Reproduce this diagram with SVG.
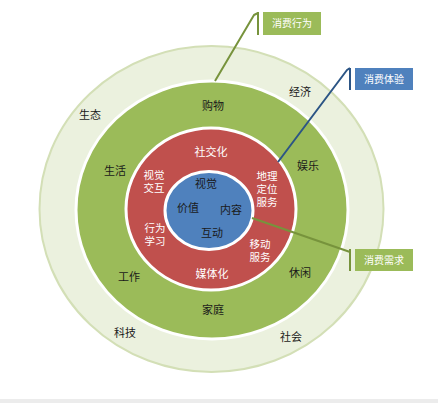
<svg xmlns="http://www.w3.org/2000/svg" width="438" height="403" viewBox="0 0 438 403">
<style>
.t{font-family:"Liberation Sans","Noto Sans CJK SC",sans-serif;font-size:11px;text-anchor:middle;dominant-baseline:central}
.m{font-size:10.5px}
.dk{fill:#1a1a1a}
.wh{fill:#ffffff}
.bx{font-size:10px;fill:#ffffff}
.ln{fill:none;stroke-width:2;stroke-linejoin:round}
</style>
<rect width="438" height="403" fill="#ffffff"/>
<rect y="399" width="438" height="4" fill="#ececec"/>
<g id="ring-outer">
<ellipse cx="211.5" cy="209" rx="172" ry="163" fill="#ebf1de" stroke="#d3dfb6" stroke-width="2"/>
<text class="t dk" x="90" y="115">生态</text>
<text class="t dk" x="300" y="92">经济</text>
<text class="t dk" x="125" y="333">科技</text>
<text class="t dk" x="291" y="337">社会</text>
</g>
<g id="ring-green">
<ellipse cx="212" cy="210" rx="136" ry="129" fill="#9bbb59" stroke="#ffffff" stroke-width="3"/>
<text class="t dk" x="213" y="106">购物</text>
<text class="t dk" x="115" y="171">生活</text>
<text class="t dk" x="308" y="166">娱乐</text>
<text class="t dk" x="129" y="277">工作</text>
<text class="t dk" x="300" y="273">休闲</text>
<text class="t dk" x="213" y="310">家庭</text>
</g>
<g id="ring-red">
<ellipse cx="211" cy="209" rx="85" ry="81" fill="#c0504d" stroke="#ffffff" stroke-width="3"/>
<text class="t wh" x="211" y="152">社交化</text>
<text class="t m wh" x="154" y="175">视觉</text>
<text class="t m wh" x="154" y="188">交互</text>
<text class="t m wh" x="267" y="176">地理</text>
<text class="t m wh" x="267" y="189">定位</text>
<text class="t m wh" x="267" y="202">服务</text>
<text class="t m wh" x="155" y="228">行为</text>
<text class="t m wh" x="155" y="241">学习</text>
<text class="t m wh" x="260" y="244">移动</text>
<text class="t m wh" x="260" y="257">服务</text>
<text class="t wh" x="212" y="274">媒体化</text>
</g>
<g id="core-blue">
<ellipse cx="209" cy="210.5" rx="44" ry="39" fill="#4f81bd" stroke="#ffffff" stroke-width="3"/>
<text class="t dk" x="206" y="184">视觉</text>
<text class="t dk" x="188" y="208">价值</text>
<text class="t dk" x="231" y="210">内容</text>
<text class="t dk" x="212" y="233">互动</text>
</g>
<g id="connectors">
<path class="ln" stroke="#77933c" d="M215,81 L254,15 L258,13"/>
<line x1="258" y1="12" x2="258" y2="35" stroke="#77933c" stroke-width="2"/>
<path class="ln" stroke="#2c5585" d="M278,162 L347,70 L350,68"/>
<line x1="350" y1="68" x2="350" y2="90" stroke="#2c5585" stroke-width="2"/>
<path class="ln" stroke="#77933c" stroke-width="2.5" d="M252,218 L350,252"/>
<line x1="350" y1="249" x2="350" y2="271" stroke="#77933c" stroke-width="2"/>
</g>
<g id="label-behavior">
<rect x="263" y="12" width="58" height="23" fill="#9bbb59"/>
<text class="t bx" x="292" y="23.5">消费行为</text>
</g>
<g id="label-experience">
<rect x="355" y="68" width="58" height="22" fill="#4f81bd"/>
<text class="t bx" x="384" y="79">消费体验</text>
</g>
<g id="label-demand">
<rect x="355" y="249" width="58" height="22" fill="#9bbb59"/>
<text class="t bx" x="384" y="260">消费需求</text>
</g>
</svg>
